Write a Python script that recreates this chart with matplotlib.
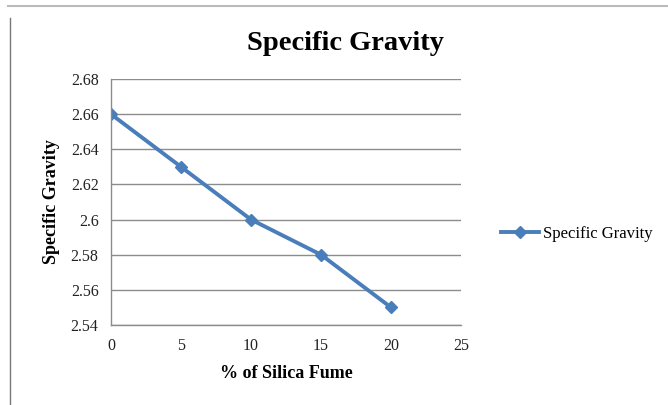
import matplotlib
matplotlib.use("Agg")
import matplotlib.pyplot as plt
from matplotlib.lines import Line2D

silica_fume = [0, 5, 10, 15, 20]
specific_gravity = [2.66, 2.63, 2.60, 2.58, 2.55]
y_ticks = [2.54, 2.56, 2.58, 2.60, 2.62, 2.64, 2.66, 2.68]
y_tick_labels = ["2.54", "2.56", "2.58", "2.6", "2.62", "2.64", "2.66", "2.68"]
x_ticks = [0, 5, 10, 15, 20, 25]

plt.rcParams["font.family"] = ["Liberation Serif", "DejaVu Serif"]
blue = "#4A7EBB"

fig = plt.figure(figsize=(6.68, 4.05), dpi=100)
ax = fig.add_axes([111 / 668, 1 - 325 / 405, 350 / 668, 246 / 405])

ax.plot(silica_fume, specific_gravity, color=blue, linewidth=2.8,
        marker="D", markersize=6.5, markerfacecolor=blue, markeredgecolor=blue)

ax.set_xlim(0, 25)
ax.set_ylim(2.54, 2.68)
ax.set_xticks(x_ticks)
ax.set_yticks(y_ticks)
ax.set_yticklabels(y_tick_labels)
ax.tick_params(length=0, labelsize=11.5, pad=9, colors="#222222")
ax.grid(axis="y", color="#8c8c8c", linewidth=1.0)
ax.set_axisbelow(True)
for s in ["top", "right"]:
    ax.spines[s].set_visible(False)
for s in ["left", "bottom"]:
    ax.spines[s].set_color("#8c8c8c")
    ax.spines[s].set_linewidth(1.0)

ax.set_xlabel("% of Silica Fume", fontsize=13, fontweight="bold", labelpad=8)
ax.set_ylabel("Specific Gravity", fontsize=13, fontweight="bold", labelpad=8)
fig.text(345 / 668, 1 - 43 / 405, "Specific Gravity", fontsize=20.5,
         fontweight="bold", ha="center", va="center")

handle = Line2D([], [], color=blue, linewidth=2.8, marker="D", markersize=6)
fig.legend([handle], ["Specific Gravity"], loc="center left",
           bbox_to_anchor=(486 / 668, 1 - 234 / 405), frameon=False,
           fontsize=12, handlelength=2.3, handletextpad=0.2)

# outer frame lines of the embedded chart
fig.add_artist(Line2D([10 / 668, 10 / 668], [0, 1 - 18 / 405],
                      transform=fig.transFigure, color="#777777", linewidth=1))
fig.add_artist(Line2D([8 / 668, 1], [1 - 6 / 405, 1 - 6 / 405],
                      transform=fig.transFigure, color="#bbbbbb", linewidth=1.5))

fig.savefig("out.png", dpi=100)
